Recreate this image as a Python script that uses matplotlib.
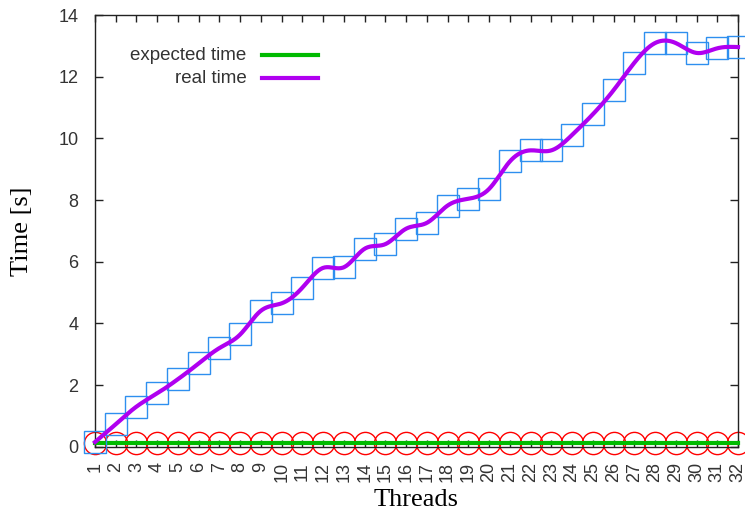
import matplotlib
matplotlib.use("Agg")
import matplotlib.pyplot as plt
import numpy as np

threads = list(range(1, 33))
expected_time = [0.13] * 32
real_time = [0.15, 0.73, 1.30, 1.73, 2.19, 2.70, 3.20, 3.64, 4.41, 4.65,
             5.16, 5.80, 5.82, 6.42, 6.57, 7.07, 7.26, 7.82, 8.04, 8.36,
             9.25, 9.61, 9.61, 10.11, 10.78, 11.56, 12.45, 13.09, 13.09, 12.77,
             12.92, 12.96]


def natural_spline(x, y, n=600):
    # gnuplot "smooth csplines" 风格的自然三次样条
    x = np.asarray(x, float)
    y = np.asarray(y, float)
    k = len(x)
    h = np.diff(x)
    A = np.zeros((k, k))
    b = np.zeros(k)
    A[0, 0] = A[-1, -1] = 1
    for i in range(1, k - 1):
        A[i, i - 1] = h[i - 1]
        A[i, i] = 2 * (h[i - 1] + h[i])
        A[i, i + 1] = h[i]
        b[i] = 6 * ((y[i + 1] - y[i]) / h[i] - (y[i] - y[i - 1]) / h[i - 1])
    m = np.linalg.solve(A, b)
    xs = np.linspace(x[0], x[-1], n)
    idx = np.clip(np.searchsorted(x, xs) - 1, 0, k - 2)
    x0, x1 = x[idx], x[idx + 1]
    hh = x1 - x0
    t0, t1 = x1 - xs, xs - x0
    ys = (m[idx] * t0 ** 3 + m[idx + 1] * t1 ** 3) / (6 * hh) \
        + (y[idx] / hh - m[idx] * hh / 6) * t0 \
        + (y[idx + 1] / hh - m[idx + 1] * hh / 6) * t1
    return xs, ys


SANS = "Liberation Sans"
SERIF = "Liberation Serif"

fig = plt.figure(figsize=(7.45, 5.12), dpi=100)
ax = fig.add_axes([95 / 745, 1 - 446.7 / 512, 643 / 745, 431.7 / 512])

ax.plot(threads, expected_time, ls="none", marker="o", ms=16, mfc="none",
        mec="red", mew=1.0, clip_on=False, zorder=2)
ax.plot(threads, expected_time, color="#00bb00", lw=3, clip_on=False, zorder=3)
ax.plot(threads, real_time, ls="none", marker="s", ms=16, mfc="none",
        mec="#2e8fef", mew=1.0, clip_on=False, zorder=4)
xs, ys = natural_spline(threads, real_time)
ax.plot(xs, ys, color="#b000f0", lw=3, clip_on=False, zorder=5)

ax.set_xlim(1, 32)
ax.set_ylim(0, 14)
ax.set_xticks(threads)
ax.set_xticklabels([str(t) for t in threads], rotation=90)
ax.set_yticks(np.arange(0, 15, 2))
ax.tick_params(direction="in", top=True, right=True, labelsize=13,
               labelcolor="#333333", width=1, color="#222222")
ax.tick_params(axis="x", length=5, pad=11)
ax.tick_params(axis="y", length=6, pad=12)
for lab in ax.get_xticklabels() + ax.get_yticklabels():
    lab.set_family(SANS)
for s in ax.spines.values():
    s.set_color("#222222")
    s.set_linewidth(1)

ax.set_xlabel("Threads", family=SERIF, fontsize=19, labelpad=5)
ax.set_ylabel("Time [s]", family=SERIF, fontsize=19, labelpad=18)

# 图例：文字右对齐，线条在右
legend_items = [("expected time", "#00bb00", 0.907), ("real time", "#b000f0", 0.854)]
for label, col, yy in legend_items:
    ax.text(0.236, yy, label, transform=ax.transAxes, ha="right", va="center",
            fontsize=13.5, color="#333333", family=SANS)
    ax.plot([0.26, 0.347], [yy, yy], transform=ax.transAxes, color=col, lw=3)

fig.savefig("out.png", dpi=100)
